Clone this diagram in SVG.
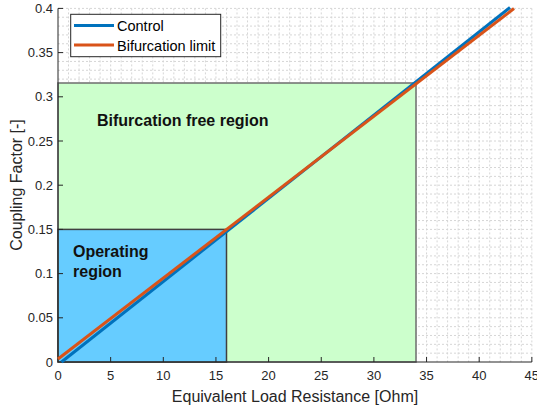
<svg xmlns="http://www.w3.org/2000/svg" width="537" height="408" viewBox="0 0 537 408">
<style>
.grid{fill:none;stroke:#d6d6d6;stroke-width:1;stroke-dasharray:2 2}
.axis{fill:none;stroke:#262626;stroke-width:1}
.tick{font-family:"Liberation Sans",Arial,sans-serif;font-size:13px;fill:#262626}
.lab{font-family:"Liberation Sans",Arial,sans-serif;font-size:16px;fill:#262626}
.reg{font-family:"Liberation Sans",Arial,sans-serif;font-size:16px;font-weight:bold;fill:#111}
.leg{font-family:"Liberation Sans",Arial,sans-serif;font-size:14.5px;fill:#000}
.ctrl{stroke:#0072BD;stroke-width:3;fill:none}
.bif{stroke:#D95319;stroke-width:3;fill:none}
</style>
<rect width="537" height="408" fill="#ffffff"/>
<g id="grid">
<path class="grid" d="M68.53 8.4V362M79.06 8.4V362M89.59 8.4V362M100.12 8.4V362M110.65 8.4V362M121.18 8.4V362M131.71 8.4V362M142.24 8.4V362M152.77 8.4V362M163.3 8.4V362M173.83 8.4V362M184.36 8.4V362M194.89 8.4V362M205.42 8.4V362M215.95 8.4V362M226.48 8.4V362M237.01 8.4V362M247.54 8.4V362M258.07 8.4V362M268.6 8.4V362M279.13 8.4V362M289.66 8.4V362M300.19 8.4V362M310.72 8.4V362M321.25 8.4V362M331.78 8.4V362M342.31 8.4V362M352.84 8.4V362M363.37 8.4V362M373.9 8.4V362M384.43 8.4V362M394.96 8.4V362M405.49 8.4V362M416.02 8.4V362M426.55 8.4V362M437.08 8.4V362M447.61 8.4V362M458.14 8.4V362M468.67 8.4V362M479.2 8.4V362M489.73 8.4V362M500.26 8.4V362M510.79 8.4V362M521.32 8.4V362M531.85 8.4V362"/>
<path class="grid" d="M58 353.16H531.85M58 344.32H531.85M58 335.48H531.85M58 326.64H531.85M58 317.8H531.85M58 308.96H531.85M58 300.12H531.85M58 291.28H531.85M58 282.44H531.85M58 273.6H531.85M58 264.76H531.85M58 255.92H531.85M58 247.08H531.85M58 238.24H531.85M58 229.4H531.85M58 220.56H531.85M58 211.72H531.85M58 202.88H531.85M58 194.04H531.85M58 185.2H531.85M58 176.36H531.85M58 167.52H531.85M58 158.68H531.85M58 149.84H531.85M58 141H531.85M58 132.16H531.85M58 123.32H531.85M58 114.48H531.85M58 105.64H531.85M58 96.8H531.85M58 87.96H531.85M58 79.12H531.85M58 70.28H531.85M58 61.44H531.85M58 52.6H531.85M58 43.76H531.85M58 34.92H531.85M58 26.08H531.85M58 17.24H531.85M58 8.4H531.85"/>
</g>
<g id="bifurcation-free-region">
<rect x="58" y="83" width="358" height="279" fill="#ccffcc" stroke="#6e6e6e" stroke-width="1.5"/>
<text class="reg" x="97" y="126">Bifurcation free region</text>
</g>
<g id="operating-region">
<rect x="58" y="229.4" width="168.5" height="132.6" fill="#66ccff" stroke="#404040" stroke-width="1.5"/>
<text class="reg" x="73" y="257">Operating</text>
<text class="reg" x="73" y="277">region</text>
</g>
<g id="axes">
<path class="axis" d="M58 8.4V362H531.85"/>
<path class="axis" d="M110.65 362v-5M163.3 362v-5M215.95 362v-5M268.6 362v-5M321.25 362v-5M373.9 362v-5M426.55 362v-5M479.2 362v-5M531.85 362v-5M58 317.8h5M58 273.6h5M58 229.4h5M58 185.2h5M58 141h5M58 96.8h5M58 52.6h5M58 8.4h5"/>
<g class="tick" text-anchor="middle">
<text x="58" y="380">0</text><text x="110.65" y="380">5</text><text x="163.3" y="380">10</text><text x="215.95" y="380">15</text><text x="268.6" y="380">20</text><text x="321.25" y="380">25</text><text x="373.9" y="380">30</text><text x="426.55" y="380">35</text><text x="479.2" y="380">40</text><text x="531.85" y="380">45</text>
</g>
<g class="tick" text-anchor="end">
<text x="53" y="366.5">0</text><text x="53" y="322.3">0.05</text><text x="53" y="278.1">0.1</text><text x="53" y="233.9">0.15</text><text x="53" y="189.7">0.2</text><text x="53" y="145.5">0.25</text><text x="53" y="101.3">0.3</text><text x="53" y="57.1">0.35</text><text x="53" y="12.9">0.4</text>
</g>
<text class="lab" x="295" y="402" text-anchor="middle">Equivalent Load Resistance [Ohm]</text>
<text class="lab" transform="translate(22 185) rotate(-90)" text-anchor="middle">Coupling Factor [-]</text>
</g>
<g id="curves">
<line class="ctrl" x1="61.5" y1="362" x2="510" y2="7.5"/>
<line class="bif" x1="58" y1="359" x2="514" y2="8.5"/>
</g>
<g id="legend">
<rect x="70.7" y="14.3" width="150" height="42.4" fill="#ffffff" stroke="#262626" stroke-width="1"/>
<line class="ctrl" x1="74" y1="25.5" x2="114" y2="25.5"/>
<line class="bif" x1="74" y1="45" x2="114" y2="45"/>
<text class="leg" x="117" y="31">Control</text>
<text class="leg" x="117" y="50.5">Bifurcation limit</text>
</g>
</svg>
